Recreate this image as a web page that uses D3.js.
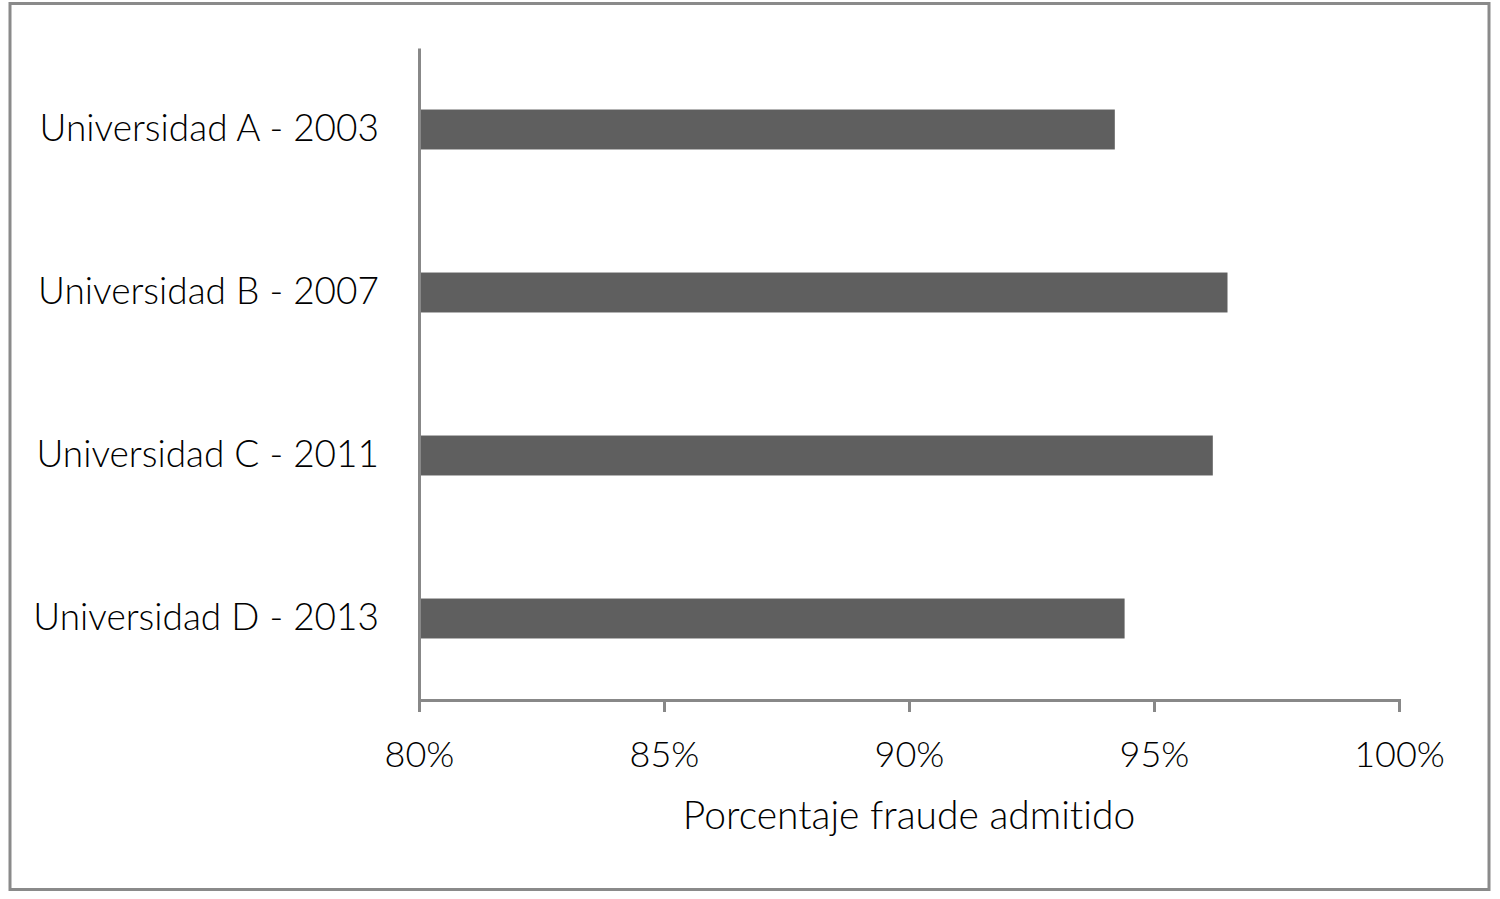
<!DOCTYPE html>
<html>
<head>
<meta charset="utf-8">
<script src="https://cdn.jsdelivr.net/npm/d3@7"></script>
<style>
  html, body { margin: 0; padding: 0; background: #fff; }
  svg { display: block; }
  text {
    font-family: Lato, "Open Sans", sans-serif;
    font-weight: 300;
    fill: #000;
    font-variant-ligatures: none;
    font-feature-settings: "liga" 0, "clig" 0;
  }
</style>
</head>
<body>
<div id="chart"></div>
<script>
const categories = [
  "Universidad A - 2003",
  "Universidad B - 2007",
  "Universidad C - 2011",
  "Universidad D - 2013"
];
const values = [94.2, 96.5, 96.2, 94.4];
const xTicks = [80, 85, 90, 95, 100];
const xTitle = "Porcentaje fraude admitido";

const WIDTH = 1500;
const HEIGHT = 899;
const margin = { top: 48, right: 101, bottom: 199, left: 419 };
const FONT = "Lato, 'Open Sans', sans-serif";

const svg = d3.select("#chart")
  .append("svg")
  .attr("width", WIDTH)
  .attr("height", HEIGHT);

// outer frame
svg.append("rect")
  .attr("x", 10)
  .attr("y", 3.5)
  .attr("width", 1479)
  .attr("height", 886)
  .attr("fill", "none")
  .attr("stroke", "#8a8a8a")
  .attr("stroke-width", 3);

const x = d3.scaleLinear()
  .domain([80, 100])
  .range([margin.left, WIDTH - margin.right]);

const y = d3.scaleBand()
  .domain(categories)
  .range([margin.top, HEIGHT - margin.bottom])
  .paddingInner(0.755)
  .paddingOuter(0.3775);

svg.append("g")
  .selectAll(".bar")
  .data(categories)
  .join("rect")
  .attr("class", "bar")
  .attr("x", x(80))
  .attr("y", (d) => y(d))
  .attr("width", (d, i) => x(values[i]) - x(80))
  .attr("height", y.bandwidth())
  .attr("fill", "#5f5f5f");

// x axis
const xAxis = svg.append("g")
  .attr("transform", `translate(0,${HEIGHT - margin.bottom})`)
  .call(d3.axisBottom(x)
    .tickValues(xTicks)
    .tickFormat((d) => `${d}%`)
    .tickSize(12)
    .tickSizeOuter(12)
    .tickPadding(29));

xAxis.select(".domain").attr("stroke", "#888").attr("stroke-width", 3);
xAxis.selectAll(".tick line").attr("stroke", "#888").attr("stroke-width", 3);
xAxis.selectAll(".tick text")
  .attr("fill", "#000")
  .style("font-family", FONT)
  .style("font-weight", 300)
  .style("font-size", "36px");

// y axis
const yAxis = svg.append("g")
  .attr("transform", `translate(${margin.left},0)`)
  .call(d3.axisLeft(y).tickSize(0).tickSizeOuter(0).tickPadding(40));

yAxis.select(".domain").attr("stroke", "#888").attr("stroke-width", 3);
yAxis.selectAll(".tick text")
  .attr("fill", "#000")
  .style("font-family", FONT)
  .style("font-weight", 300)
  .style("font-size", "37px");

svg.append("text")
  .attr("x", (x(80) + x(100)) / 2)
  .attr("y", 829)
  .attr("text-anchor", "middle")
  .style("font-size", "39px")
  .text(xTitle);
</script>
</body>
</html>
